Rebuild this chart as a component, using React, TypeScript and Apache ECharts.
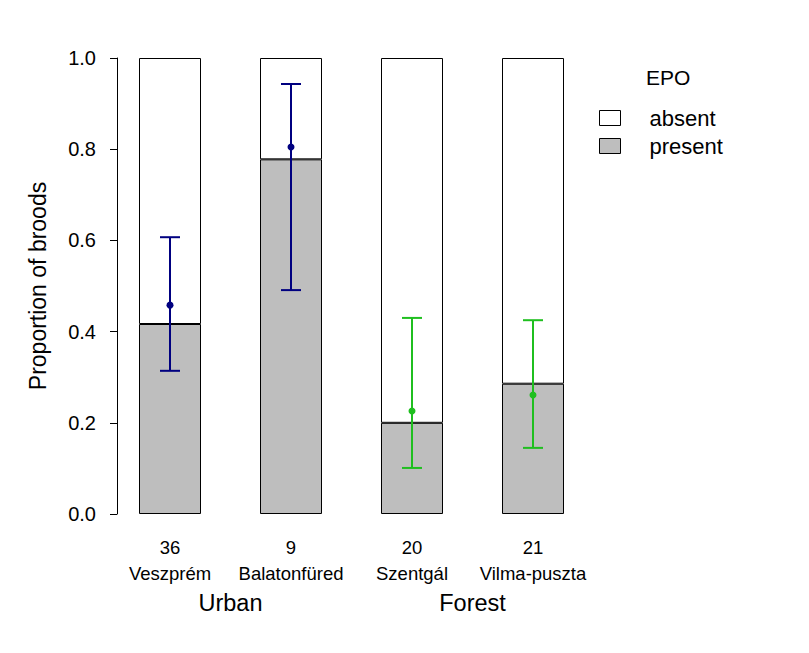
import React, { useEffect, useRef } from "react";
import * as echarts from "echarts";

const sites = ["Veszprém", "Balatonfüred", "Szentgál", "Vilma-puszta"];
const broodCounts = ["36", "9", "20", "21"];
const habitats = ["Urban", "Forest"];
const present = [15 / 36, 7 / 9, 4 / 20, 6 / 21];
const absent = [21 / 36, 2 / 9, 16 / 20, 15 / 21];
const estMean = [0.458, 0.805, 0.226, 0.261];
const estLower = [0.314, 0.491, 0.101, 0.145];
const estUpper = [0.607, 0.943, 0.43, 0.425];
const siteHabitat = [0, 0, 1, 1];
const habitatColors = ["#000080", "#1FBF1F"];

const FONT = "'Liberation Sans', Arial, sans-serif";

export default function App() {
  const ref = useRef<HTMLDivElement>(null);
  useEffect(() => {
    document.body.style.margin = "0";
    const chart = echarts.init(ref.current!, null, { renderer: "svg" });
    const errData = sites.map((_, i) => [i, estMean[i], estLower[i], estUpper[i]]);
    chart.setOption({
      animation: false,
      backgroundColor: "#ffffff",
      textStyle: { fontFamily: FONT, color: "#000" },
      title: {
        text: "EPO",
        left: 641,
        top: 62,
        textStyle: { fontFamily: FONT, fontSize: 21, fontWeight: "normal", color: "#000" },
      },
      legend: {
        data: ["absent", "present"],
        orient: "vertical",
        left: 594,
        top: 102,
        itemWidth: 21,
        itemHeight: 15,
        itemGap: 6,
        icon: "rect",
        itemStyle: { borderColor: "#000", borderWidth: 1 },
        textStyle: { fontFamily: FONT, fontSize: 22, color: "#000", padding: [0, 0, 0, 24] },
      },
      grid: { left: 109.5, right: 215.5, top: 58, bottom: 139, containLabel: false },
      xAxis: [
        {
          type: "category",
          data: sites,
          axisLine: { show: false },
          axisTick: { show: false },
          axisLabel: {
            interval: 0,
            margin: 20,
            formatter: (v: string, i: number) => `{n|${broodCounts[i]}}\n{c|${v}}`,
            rich: {
              n: { fontFamily: FONT, fontSize: 18.5, lineHeight: 26, color: "#000" },
              c: { fontFamily: FONT, fontSize: 18.5, lineHeight: 26, color: "#000" },
            },
          },
        },
        {
          type: "category",
          data: habitats,
          position: "bottom",
          axisLine: { show: false },
          axisTick: { show: false },
          axisLabel: { interval: 0, margin: 77, fontFamily: FONT, fontSize: 23.5, color: "#000" },
        },
      ],
      yAxis: {
        type: "value",
        min: 0,
        max: 1,
        interval: 0.2,
        offset: -7.5,
        name: "Proportion of broods",
        nameLocation: "middle",
        nameGap: 68,
        nameTextStyle: { fontFamily: FONT, fontSize: 23, color: "#000" },
        axisLine: { show: true, lineStyle: { color: "#000", width: 1 } },
        axisTick: { show: true, length: 7, lineStyle: { color: "#000" } },
        splitLine: { show: false },
        axisLabel: {
          margin: 21,
          fontFamily: FONT,
          fontSize: 20,
          color: "#000",
          formatter: (v: number) => v.toFixed(1),
        },
      },
      series: [
        {
          name: "present",
          type: "bar",
          stack: "p",
          barWidth: 62,
          data: present,
          itemStyle: { color: "#BEBEBE", borderColor: "#000", borderWidth: 1 },
        },
        {
          name: "absent",
          type: "bar",
          stack: "p",
          barWidth: 62,
          data: absent,
          itemStyle: { color: "#FFFFFF", borderColor: "#000", borderWidth: 1 },
        },
        {
          name: "estimate",
          type: "custom",
          data: errData,
          encode: { x: 0, y: [1, 2, 3] },
          z: 10,
          renderItem: (params: any, api: any) => {
            const idx = api.value(0);
            const pm = api.coord([idx, api.value(1)]);
            const pl = api.coord([idx, api.value(2)]);
            const pu = api.coord([idx, api.value(3)]);
            const col = habitatColors[siteHabitat[params.dataIndex]];
            const half = 10;
            const ls = { stroke: col, lineWidth: 2 };
            return {
              type: "group",
              children: [
                { type: "line", shape: { x1: pm[0], y1: pu[1], x2: pm[0], y2: pl[1] }, style: ls },
                { type: "line", shape: { x1: pm[0] - half, y1: pu[1], x2: pm[0] + half, y2: pu[1] }, style: ls },
                { type: "line", shape: { x1: pm[0] - half, y1: pl[1], x2: pm[0] + half, y2: pl[1] }, style: ls },
                { type: "circle", shape: { cx: pm[0], cy: pm[1], r: 3.5 }, style: { fill: col } },
              ],
            };
          },
        },
      ],
    });
    return () => chart.dispose();
  }, []);
  return <div ref={ref} style={{ width: 809, height: 653 }} />;
}
